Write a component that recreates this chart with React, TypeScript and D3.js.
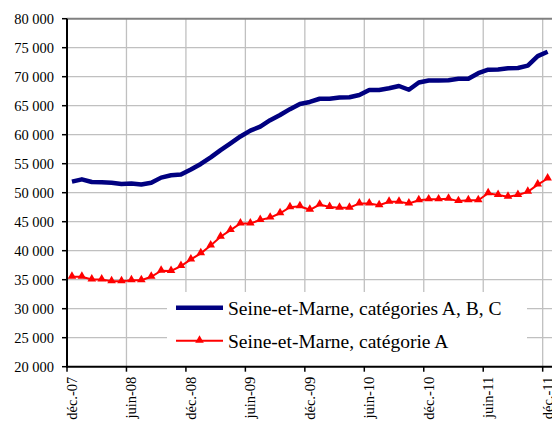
import React from "react"
import * as d3 from "d3"

// mois de déc.-07 à déc.-11
const monthNames = ["janv.", "févr.", "mars", "avr.", "mai", "juin", "juil.", "août", "sept.", "oct.", "nov.", "déc."]
const years = ["08", "09", "10", "11"]

// Seine-et-Marne, catégories A, B, C
const abcValues = [
  51900, 52300, 51850, 51800, 51700, 51500, 51600, 51400, 51700, 52600,
  53000, 53150, 54000, 54950, 56100, 57350, 58500, 59700, 60700, 61400,
  62500, 63400, 64400, 65300, 65650, 66200, 66200, 66400, 66450,
  66850, 67700, 67700, 68000, 68400, 67750, 69000, 69350, 69350, 69400,
  69650, 69650, 70600, 71200, 71250, 71450, 71500, 71900, 73550, 74300,
]

// Seine-et-Marne, catégorie A
const aValues = [
  35500, 35500, 35050, 35050, 34750, 34750, 34900, 34900, 35500, 36550,
  36500, 37350, 38500, 39550, 40900, 42400, 43550, 44700, 44700, 45300,
  45700, 46450, 47500, 47650, 47050, 47950, 47550, 47400, 47400, 48150,
  48150, 47850, 48450, 48450, 48150, 48700, 48850, 48850, 48950, 48550,
  48700, 48700, 49900, 49600, 49300, 49600, 50150, 51400, 52450,
]

const seriesNames = ["Seine-et-Marne, catégories A, B, C", "Seine-et-Marne, catégorie A"]
const yTicks = [20000, 25000, 30000, 35000, 40000, 45000, 50000, 55000, 60000, 65000, 70000, 75000, 80000]

const font = "'Liberation Serif', 'Times New Roman', serif"

export default function App() {
  const width = 552, height = 421
  const left = 67, bottom = 366.7, top = 18.7

  const months = ["déc.-07"]
  years.forEach(y => monthNames.forEach(m => months.push(m + "-" + y)))
  const data = months.slice(0, aValues.length)

  const x = d3.scaleBand().domain(data).range([left, left + data.length * 9.91]).padding(0)
  const y = d3.scaleLinear().domain([20000, 80000]).range([bottom, top])
  const cx = (m) => x(m) + x.bandwidth() / 2
  const fmt = d3.formatLocale({ thousands: " ", grouping: [3], decimal: ",", currency: ["", ""] }).format(",d")
  const tickMonths = data.filter((d, i) => i % 6 === 0)

  const line = d3.line().x((d, i) => cx(data[i])).y(d => y(d))
  const tri = d3.symbol().type(d3.symbolTriangle).size(32)()

  return (
    <svg width={width} height={height} style={{ position: "absolute", left: 0, top: 0, background: "white" }}>
      {/* grille */}
      {yTicks.slice(1, -1).map(t => (
        <line key={"gy" + t} x1={left} x2={width} y1={y(t)} y2={y(t)} stroke="#c0c0c0" strokeWidth={1.3} />
      ))}
      {tickMonths.slice(1).map(m => (
        <line key={"gx" + m} x1={x(m)} x2={x(m)} y1={top} y2={bottom} stroke="#c0c0c0" strokeWidth={1.3} />
      ))}
      <line x1={left} x2={width} y1={top} y2={top} stroke="#808080" strokeWidth={2} />

      {/* fond de la légende */}
      <rect x={167} y={292} width={360} height={75} fill="white" />

      {/* courbes */}
      <path d={line(abcValues)} fill="none" stroke="#000080" strokeWidth={4.5} strokeLinejoin="round" />
      <path d={line(aValues)} fill="none" stroke="#ff0000" strokeWidth={2} />
      {aValues.map((v, i) => (
        <path key={"m" + i} d={tri} fill="#ff0000" transform={`translate(${cx(data[i])},${y(v) - 0.5})`} />
      ))}

      {/* axes */}
      <line x1={left} x2={left} y1={top} y2={bottom + 1} stroke="black" strokeWidth={2} />
      <line x1={left} x2={width} y1={bottom} y2={bottom} stroke="black" strokeWidth={2} />
      {yTicks.map(t => (
        <g key={"ty" + t}>
          <line x1={left - 5} x2={left} y1={y(t)} y2={y(t)} stroke="black" strokeWidth={1.5} />
          <text x={54} y={y(t)} dy="0.35em" textAnchor="end" style={{ fontFamily: font, fontSize: "14.5px" }}>{fmt(t)}</text>
        </g>
      ))}
      {tickMonths.map(m => (
        <g key={"tx" + m}>
          <line x1={x(m)} x2={x(m)} y1={bottom} y2={bottom + 5} stroke="black" strokeWidth={1.5} />
          <text transform={`translate(${cx(m)},${bottom + 10}) rotate(-90)`} dy="0.35em" textAnchor="end"
            style={{ fontFamily: font, fontSize: "14.5px" }}>{m}</text>
        </g>
      ))}

      {/* légende */}
      <line x1={176} x2={223} y1={307.7} y2={307.7} stroke="#000080" strokeWidth={4.5} />
      <line x1={176} x2={223} y1={340.7} y2={340.7} stroke="#ff0000" strokeWidth={2} />
      <path d={tri} fill="#ff0000" transform="translate(199.5,340.2)" />
      {seriesNames.map((s, i) => (
        <text key={s} x={228} y={314.5 + i * 33.5} style={{ fontFamily: font, fontSize: "19.5px" }}>{s}</text>
      ))}
    </svg>
  )
}
